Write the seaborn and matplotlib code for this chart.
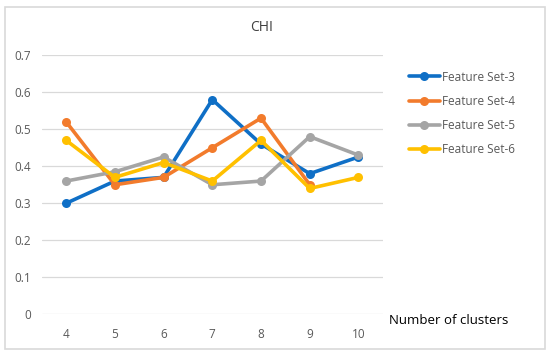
import numpy as np
import pandas as pd
import seaborn as sns
import matplotlib.pyplot as plt
from matplotlib.patches import Rectangle

clusters = [4, 5, 6, 7, 8, 9, 10]
fs3 = [0.30, 0.36, 0.37, 0.58, 0.46, 0.38, 0.425]
fs4 = [0.52, 0.35, 0.37, 0.45, 0.53, 0.35, np.nan]  # no point at 10
fs5 = [0.36, 0.385, 0.425, 0.35, 0.36, 0.48, 0.43]
fs6 = [0.47, 0.37, 0.41, 0.36, 0.47, 0.34, 0.37]
series_names = ["Feature Set-3", "Feature Set-4", "Feature Set-5", "Feature Set-6"]
colors = ["#0F6FC6", "#F27B2C", "#A5A5A5", "#FFC000"]

df = pd.concat([
    pd.DataFrame({"clusters": clusters, "CHI": vals, "series": name})
    for name, vals in zip(series_names, [fs3, fs4, fs5, fs6])
], ignore_index=True).dropna().reset_index(drop=True)

sns.set_style("white")
plt.rcParams["font.family"] = ["Open Sans", "DejaVu Sans"]

fig = plt.figure(figsize=(5.5, 3.56), dpi=100)
ax = fig.add_axes([0.076, 0.117, 0.62, 0.728])

sns.lineplot(data=df, x="clusters", y="CHI", hue="series", palette=colors,
             marker="o", markersize=6.5, markeredgewidth=0, linewidth=2.6,
             ax=ax, legend=True)

ax.set_xlim(3.5, 10.5)
ax.set_ylim(0, 0.7)
ax.set_xticks(clusters)
ax.set_yticks(np.arange(0, 0.71, 0.1))
ax.set_yticklabels(["0", "0.1", "0.2", "0.3", "0.4", "0.5", "0.6", "0.7"])
ax.yaxis.grid(True, color="#D9D9D9", linewidth=0.9)
ax.set_axisbelow(True)
for s in ax.spines.values():
    s.set_visible(False)
ax.tick_params(axis="both", length=0, labelsize=8.5, labelcolor="#595959")
ax.tick_params(axis="x", pad=10)
ax.tick_params(axis="y", pad=8)
ax.set_xlabel("")
ax.set_ylabel("")

fig.text(0.476, 0.922, "CHI", ha="center", va="center", fontsize=10, color="#404040")
fig.text(0.707, 0.099, "Number of clusters", ha="left", va="center", fontsize=9.5, color="black")

leg = ax.legend(loc="upper left", bbox_to_anchor=(0.735, 0.815),
                bbox_transform=fig.transFigure, frameon=False, fontsize=8.5,
                handlelength=2.6, handletextpad=0.2, labelspacing=0.95,
                borderaxespad=0)
for t in leg.get_texts():
    t.set_color("#595959")

fig.patches.append(Rectangle((0.009, 0.02), 0.982, 0.96, transform=fig.transFigure,
                             fill=False, edgecolor="#D9D9D9", linewidth=1.2))

fig.savefig("out.png", dpi=100)
